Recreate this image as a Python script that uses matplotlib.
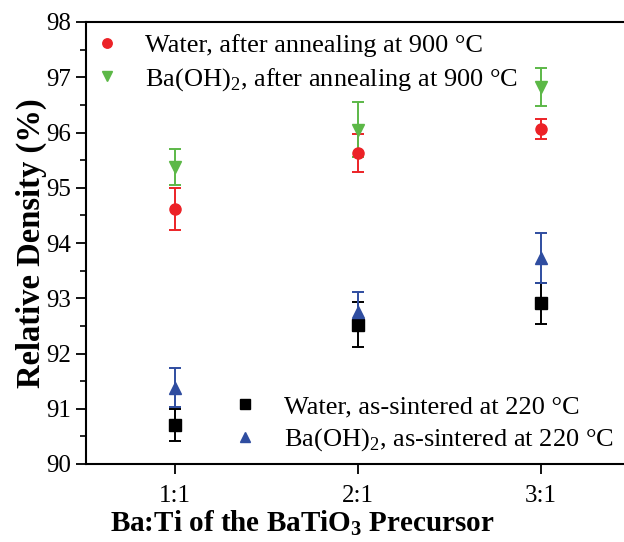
import numpy as np
import matplotlib
matplotlib.use('Agg')
import matplotlib.pyplot as plt

plt.rcParams['font.family'] = ['Liberation Serif', 'DejaVu Serif']
plt.rcParams['mathtext.fontset'] = 'custom'
plt.rcParams['mathtext.rm'] = 'Liberation Serif'
plt.rcParams['mathtext.bf'] = 'Liberation Serif:bold'

# Data
ratios = ['1:1', '2:1', '3:1']
x = np.array([1, 2, 3])

water_ann = [94.62, 95.63, 96.06]
water_ann_err = [0.38, 0.35, 0.18]
baoh_ann = [95.38, 96.05, 96.82]
baoh_ann_err = [0.33, 0.50, 0.34]
water_sint = [90.70, 92.52, 92.91]
water_sint_err = [0.29, 0.41, 0.37]
baoh_sint = [91.38, 92.76, 93.73]
baoh_sint_err = [0.35, 0.35, 0.45]

red = '#ec2227'
green = '#5cb847'
blue = '#2f4da0'

fig = plt.figure(figsize=(6.24, 5.42), dpi=100)
ax = fig.add_axes([86 / 624, 1 - 464 / 542, 544 / 624, 442 / 542])

kw = dict(ls='none', capsize=4, elinewidth=1.4, capthick=1.4, markersize=8)
h1 = ax.errorbar(x, water_ann, yerr=water_ann_err, fmt='o', color=red, **kw)
h2 = ax.errorbar(x, baoh_ann, yerr=baoh_ann_err, fmt='v', color=green, **kw)
h3 = ax.errorbar(x, water_sint, yerr=water_sint_err, fmt='s', color='black', **kw)
h4 = ax.errorbar(x, baoh_sint, yerr=baoh_sint_err, fmt='^', color=blue, **kw)

ax.set_xlim(0.514, 3.486)
ax.set_ylim(90, 98)
ax.set_xticks(x)
ax.set_xticklabels(ratios)
ax.set_yticks(np.arange(90, 98.1, 1))
ax.set_yticks(np.arange(90.5, 98, 1), minor=True)
ax.tick_params(axis='both', which='major', labelsize=18, length=7, width=1.3, direction='out')
ax.tick_params(axis='x', which='major', pad=8)
ax.tick_params(axis='y', which='minor', length=4, width=1.2, direction='out')
for s in ax.spines.values():
    s.set_linewidth(1.5)

ax.set_ylabel('Relative Density (%)', fontsize=23.5, fontweight='bold', labelpad=0)
ax.set_xlabel(r'Ba:Ti of the BaTiO$_\mathbf{3}$ Precursor', fontsize=21, fontweight='bold')
ax.xaxis.set_label_coords(0.397, -0.10)

lkw = dict(frameon=False, fontsize=19, handlelength=1.2, handletextpad=0.85,
           labelspacing=0.32, markerscale=0.85, borderaxespad=0, borderpad=0.2)
leg1 = ax.legend([h1[0], h2[0]],
                 ['Water, after annealing at 900 °C', r'Ba(OH)$_2$, after annealing at 900 °C'],
                 loc='upper left', bbox_to_anchor=(0.0, 0.985), **lkw)
ax.add_artist(leg1)
ax.legend([h3[0], h4[0]],
          ['Water, as-sintered at 220 °C', r'Ba(OH)$_2$, as-sintered at 220 °C'],
          loc='lower left', bbox_to_anchor=(0.254, 0.012), **lkw)

fig.savefig('out.png', dpi=100)
